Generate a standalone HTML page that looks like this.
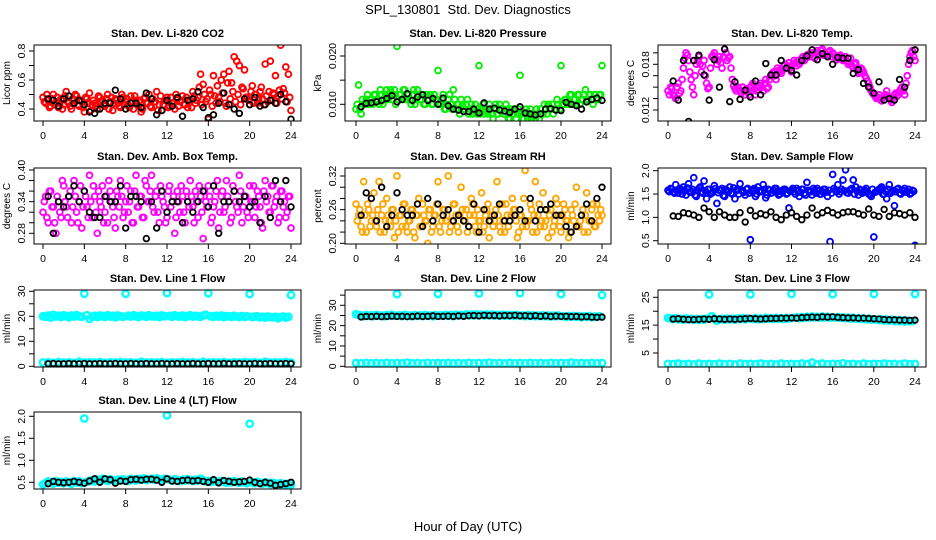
<!DOCTYPE html>
<html><head><meta charset="utf-8"><style>
html,body{margin:0;padding:0;background:#fff;}
svg{display:block;font-family:"Liberation Sans",Arial,sans-serif;}
</style></head><body>
<svg id="chart" width="936" height="540" viewBox="0 0 936 540" xmlns="http://www.w3.org/2000/svg">
<rect x="0" y="0" width="936" height="540" fill="#fff"/>
<text x="468" y="14" font-size="13" text-anchor="middle">SPL_130801&#160; Std. Dev. Diagnostics</text>
<text x="468" y="531" font-size="13" text-anchor="middle">Hour of Day (UTC)</text>
</svg>
<script>
// ---- data (hour of day on x) ----
const co2Color = [0.48,0.44,0.46,0.42,0.50,0.45,0.41,0.47,0.43,0.52,0.44,0.40,0.46,0.49,0.42,0.45,0.38,0.47,0.51,0.43,0.44,0.40,0.48,0.46,0.42,0.50,0.45,0.39,0.47,0.44,0.41,0.48,0.45,0.43,0.49,0.40,0.46,0.42,0.38,0.47,0.44,0.50,0.41,0.45,0.52,0.43,0.39,0.46,0.48,0.42,0.44,0.40,0.47,0.45,0.49,0.43,0.41,0.46,0.52,0.44,0.48,0.64,0.57,0.45,0.33,0.50,0.63,0.44,0.48,0.60,0.64,0.42,0.66,0.58,0.76,0.73,0.70,0.55,0.67,0.48,0.43,0.56,0.50,0.44,0.52,0.47,0.71,0.45,0.73,0.51,0.63,0.49,0.84,0.54,0.69,0.64,0.39];
const co2ColorB = [0.45,0.50,0.41,0.47,0.43,0.48,0.44,0.40,0.49,0.45,0.42,0.47,0.50,0.43,0.46,0.41,0.48,0.44,0.39,0.46,0.42,0.49,0.45,0.43,0.47,0.40,0.48,0.44,0.46,0.42,0.50,0.43,0.47,0.41,0.45,0.49,0.43,0.46,0.40,0.48,0.44,0.42,0.47,0.45,0.39,0.49,0.43,0.46,0.41,0.48,0.44,0.50,0.42,0.46,0.43,0.48,0.45,0.41,0.49,0.46,0.55,0.43,0.50,0.47,0.53,0.42,0.49,0.56,0.45,0.51,0.44,0.58,0.47,0.52,0.45,0.50,0.43,0.54,0.48,0.46,0.52,0.44,0.50,0.47,0.55,0.43,0.49,0.52,0.46,0.50,0.44,0.53,0.47,0.51,0.45,0.48];
const co2Black = [0.47,0.46,0.42,0.47,0.49,0.44,0.46,0.43,0.38,0.37,0.40,0.44,0.44,0.53,0.47,0.40,0.44,0.44,0.41,0.51,0.47,0.36,0.39,0.46,0.42,0.48,0.35,0.46,0.47,0.52,0.41,0.34,0.36,0.44,0.51,0.43,0.40,0.37,0.47,0.43,0.48,0.42,0.43,0.46,0.44,0.50,0.45,0.33];
const presColor = [0.009,0.014,0.008,0.010,0.011,0.010,0.011,0.012,0.011,0.010,0.012,0.011,0.013,0.012,0.011,0.013,0.022,0.012,0.011,0.013,0.012,0.011,0.012,0.010,0.013,0.011,0.012,0.010,0.011,0.012,0.010,0.011,0.017,0.010,0.012,0.009,0.011,0.010,0.013,0.009,0.010,0.011,0.009,0.010,0.008,0.010,0.009,0.008,0.018,0.009,0.008,0.009,0.010,0.008,0.009,0.008,0.010,0.009,0.008,0.009,0.007,0.008,0.009,0.008,0.016,0.007,0.008,0.007,0.009,0.008,0.007,0.008,0.009,0.008,0.009,0.010,0.009,0.008,0.009,0.010,0.018,0.010,0.011,0.010,0.012,0.011,0.010,0.012,0.011,0.012,0.011,0.012,0.011,0.012,0.011,0.012,0.018];
const presColorB = [0.010,0.009,0.011,0.010,0.012,0.011,0.010,0.012,0.011,0.013,0.010,0.012,0.011,0.013,0.012,0.010,0.011,0.012,0.013,0.011,0.012,0.010,0.013,0.011,0.012,0.011,0.010,0.012,0.011,0.010,0.012,0.011,0.010,0.011,0.009,0.010,0.012,0.009,0.011,0.010,0.008,0.010,0.009,0.011,0.009,0.008,0.010,0.009,0.008,0.010,0.009,0.008,0.009,0.007,0.010,0.008,0.009,0.008,0.010,0.007,0.009,0.008,0.007,0.009,0.008,0.007,0.009,0.008,0.007,0.008,0.009,0.007,0.008,0.010,0.008,0.009,0.010,0.009,0.011,0.009,0.010,0.011,0.010,0.012,0.010,0.011,0.012,0.010,0.011,0.013,0.011,0.012,0.010,0.012,0.011,0.012];
const presBlack = [0.0095,0.0102,0.0103,0.0105,0.0108,0.0112,0.0118,0.0105,0.0110,0.0122,0.0108,0.0115,0.0120,0.0108,0.0112,0.0100,0.0113,0.0097,0.0090,0.0088,0.0085,0.0085,0.0090,0.0082,0.0103,0.0090,0.0092,0.0088,0.0086,0.0083,0.0090,0.0095,0.0082,0.0080,0.0078,0.0080,0.0090,0.0091,0.0088,0.0087,0.0104,0.0100,0.0097,0.0090,0.0105,0.0110,0.0113,0.0108];
const tempColor = [0.0145,0.0150,0.0140,0.0135,0.0155,0.0145,0.0175,0.0195,0.0185,0.0160,0.0140,0.0180,0.0190,0.0170,0.0185,0.0155,0.0150,0.0190,0.0195,0.0180,0.0190,0.0175,0.0200,0.0185,0.0190,0.0160,0.0148,0.0150,0.0145,0.0150,0.0140,0.0145,0.0150,0.0155,0.0140,0.0150,0.0155,0.0145,0.0160,0.0150,0.0165,0.0170,0.0160,0.0172,0.0168,0.0178,0.0175,0.0182,0.0170,0.0185,0.0178,0.0180,0.0188,0.0185,0.0192,0.0190,0.0195,0.0188,0.0198,0.0192,0.0200,0.0195,0.0190,0.0198,0.0195,0.0190,0.0188,0.0192,0.0185,0.0190,0.0180,0.0188,0.0175,0.0182,0.0168,0.0175,0.0170,0.0162,0.0155,0.0145,0.0140,0.0135,0.0140,0.0132,0.0138,0.0145,0.0135,0.0130,0.0140,0.0138,0.0145,0.0150,0.0140,0.0165,0.0190,0.0198,0.0185];
const tempColorB = [0.0140,0.0148,0.0138,0.0150,0.0142,0.0160,0.0188,0.0192,0.0170,0.0150,0.0165,0.0185,0.0180,0.0178,0.0165,0.0148,0.0175,0.0192,0.0188,0.0185,0.0182,0.0190,0.0195,0.0188,0.0175,0.0152,0.0145,0.0148,0.0142,0.0145,0.0148,0.0140,0.0152,0.0148,0.0145,0.0152,0.0150,0.0155,0.0148,0.0160,0.0168,0.0165,0.0175,0.0170,0.0172,0.0180,0.0178,0.0175,0.0180,0.0182,0.0185,0.0183,0.0190,0.0188,0.0193,0.0192,0.0190,0.0195,0.0194,0.0198,0.0192,0.0193,0.0196,0.0190,0.0193,0.0186,0.0190,0.0188,0.0186,0.0184,0.0182,0.0178,0.0180,0.0172,0.0170,0.0173,0.0165,0.0158,0.0150,0.0142,0.0138,0.0137,0.0135,0.0136,0.0140,0.0138,0.0133,0.0136,0.0142,0.0140,0.0148,0.0145,0.0155,0.0180,0.0195,0.0190];
const tempBlack = [0.0158,0.0133,0.0185,0.0105,0.0185,0.0192,0.0166,0.0133,0.0186,0.0150,0.0200,0.0131,0.0157,0.0134,0.0146,0.0137,0.0158,0.0140,0.0181,0.0166,0.0166,0.0185,0.0175,0.0172,0.0166,0.0185,0.0191,0.0199,0.0186,0.0194,0.0190,0.0180,0.0189,0.0188,0.0188,0.0168,0.0173,0.0155,0.0150,0.0142,0.0157,0.0133,0.0135,0.0133,0.0160,0.0150,0.0185,0.0199];
const ambColor = [0.32,0.35,0.30,0.36,0.33,0.28,0.34,0.31,0.37,0.33,0.35,0.30,0.38,0.32,0.34,0.29,0.36,0.33,0.39,0.31,0.35,0.28,0.34,0.37,0.32,0.30,0.36,0.33,0.29,0.35,0.38,0.31,0.34,0.32,0.36,0.30,0.39,0.33,0.35,0.31,0.37,0.34,0.39,0.32,0.36,0.30,0.35,0.33,0.31,0.37,0.34,0.28,0.36,0.32,0.35,0.30,0.34,0.38,0.33,0.36,0.31,0.35,0.27,0.34,0.37,0.30,0.33,0.36,0.29,0.35,0.32,0.38,0.34,0.31,0.36,0.33,0.39,0.30,0.35,0.32,0.37,0.34,0.31,0.36,0.33,0.29,0.38,0.35,0.32,0.37,0.34,0.30,0.36,0.33,0.31,0.35,0.29];
const ambColorB = [0.34,0.31,0.36,0.33,0.30,0.35,0.32,0.38,0.34,0.31,0.36,0.33,0.35,0.30,0.37,0.33,0.35,0.31,0.34,0.37,0.32,0.36,0.33,0.30,0.35,0.38,0.34,0.31,0.36,0.33,0.35,0.32,0.37,0.34,0.30,0.36,0.33,0.35,0.31,0.38,0.34,0.36,0.33,0.35,0.32,0.37,0.34,0.30,0.36,0.33,0.35,0.31,0.34,0.37,0.32,0.36,0.33,0.35,0.30,0.34,0.37,0.32,0.36,0.33,0.35,0.31,0.34,0.38,0.32,0.36,0.33,0.35,0.30,0.37,0.34,0.32,0.36,0.33,0.35,0.31,0.34,0.37,0.33,0.35,0.30,0.36,0.34,0.32,0.37,0.33,0.35,0.31,0.36,0.34,0.32,0.35];
const ambBlack = [0.35,0.28,0.34,0.33,0.35,0.37,0.34,0.36,0.32,0.31,0.31,0.35,0.34,0.34,0.37,0.29,0.35,0.35,0.34,0.27,0.34,0.29,0.36,0.32,0.34,0.34,0.30,0.34,0.32,0.34,0.36,0.33,0.37,0.28,0.34,0.34,0.36,0.34,0.35,0.33,0.34,0.30,0.35,0.31,0.38,0.34,0.38,0.33];
const rhColor = [0.27,0.25,0.23,0.31,0.22,0.26,0.24,0.29,0.23,0.31,0.25,0.22,0.28,0.24,0.26,0.21,0.32,0.25,0.23,0.27,0.22,0.24,0.26,0.21,0.25,0.23,0.27,0.24,0.20,0.26,0.23,0.25,0.31,0.22,0.26,0.24,0.32,0.23,0.27,0.25,0.22,0.30,0.24,0.26,0.23,0.28,0.25,0.22,0.24,0.29,0.23,0.26,0.21,0.25,0.24,0.31,0.23,0.27,0.22,0.25,0.24,0.28,0.26,0.21,0.25,0.23,0.33,0.24,0.27,0.22,0.31,0.25,0.23,0.29,0.24,0.21,0.26,0.23,0.28,0.25,0.22,0.27,0.24,0.21,0.26,0.24,0.30,0.23,0.25,0.22,0.29,0.24,0.26,0.23,0.27,0.24,0.25];
const rhColorB = [0.24,0.26,0.22,0.25,0.27,0.23,0.25,0.24,0.26,0.22,0.27,0.24,0.25,0.23,0.26,0.24,0.22,0.25,0.27,0.23,0.24,0.26,0.22,0.25,0.28,0.23,0.25,0.24,0.26,0.22,0.25,0.27,0.23,0.24,0.26,0.25,0.22,0.24,0.27,0.23,0.25,0.26,0.24,0.22,0.25,0.27,0.23,0.26,0.24,0.22,0.25,0.27,0.24,0.23,0.26,0.25,0.22,0.24,0.27,0.23,0.25,0.26,0.24,0.22,0.25,0.28,0.23,0.24,0.26,0.25,0.22,0.27,0.24,0.23,0.26,0.25,0.22,0.24,0.27,0.23,0.25,0.26,0.24,0.22,0.25,0.27,0.23,0.24,0.26,0.25,0.22,0.24,0.27,0.23,0.25,0.26];
const rhBlack = [0.25,0.29,0.28,0.24,0.30,0.23,0.25,0.29,0.26,0.25,0.25,0.27,0.23,0.28,0.24,0.27,0.25,0.26,0.24,0.25,0.24,0.23,0.27,0.22,0.26,0.24,0.25,0.27,0.24,0.24,0.25,0.26,0.24,0.28,0.24,0.26,0.26,0.27,0.25,0.25,0.23,0.22,0.23,0.25,0.27,0.24,0.28,0.30];
const flowColor = [1.58,1.62,1.55,1.70,1.52,1.60,1.65,1.48,1.72,1.56,1.85,1.45,1.62,1.55,1.78,1.40,1.60,1.52,1.68,1.30,1.58,1.62,1.45,1.55,1.65,1.50,1.40,1.60,1.72,1.55,1.48,1.62,0.52,1.58,1.45,1.65,1.55,1.70,1.42,1.60,1.52,1.58,1.62,1.48,1.55,1.60,1.50,1.20,1.58,1.55,1.62,1.45,1.60,1.52,1.75,1.55,1.48,1.58,1.62,1.50,1.55,1.60,1.45,0.48,1.92,1.58,1.70,1.55,1.80,2.02,1.52,1.60,1.80,1.65,1.48,1.58,1.55,1.62,1.50,1.45,0.58,1.55,1.60,1.65,1.50,1.40,1.70,1.55,1.25,1.60,1.52,1.58,1.62,1.55,1.50,1.58,0.40];
const flowColorB = [1.55,1.60,1.52,1.58,1.62,1.50,1.57,1.63,1.54,1.60,1.48,1.58,1.65,1.52,1.57,1.60,1.50,1.55,1.62,1.53,1.58,1.47,1.60,1.55,1.52,1.63,1.57,1.50,1.58,1.54,1.60,1.52,1.56,1.62,1.50,1.57,1.55,1.60,1.48,1.58,1.53,1.62,1.55,1.50,1.58,1.60,1.52,1.56,1.62,1.50,1.57,1.54,1.60,1.48,1.58,1.55,1.62,1.52,1.57,1.50,1.60,1.54,1.58,1.52,1.62,1.55,1.50,1.60,1.57,1.53,1.58,1.62,1.50,1.56,1.60,1.52,1.58,1.55,1.48,1.60,1.54,1.57,1.62,1.50,1.56,1.60,1.52,1.58,1.55,1.62,1.50,1.57,1.54,1.60,1.52,1.56];
const flowBlack = [1.03,1.02,1.10,1.08,1.05,1.00,1.20,1.12,1.00,1.12,1.05,1.00,1.00,1.10,0.90,1.15,1.03,1.08,1.05,1.12,1.00,0.95,1.05,1.10,1.02,0.95,1.05,1.20,1.05,1.10,1.15,1.10,1.05,1.10,1.12,1.12,1.08,1.05,1.18,1.05,1.02,1.17,1.02,1.10,1.08,1.05,1.10,1.00];
const line1High = [20.0,19.8,20.3,19.5,20.6,19.9,20.2,19.7,20.4,20.1,19.6,20.3,19.9,20.5,20.0,19.8,29.0,20.4,19.0,19.9,20.2,19.7,20.3,20.0,19.8,20.4,19.9,20.2,19.6,20.3,20.0,19.8,29.0,20.2,19.9,20.4,20.0,19.7,20.3,20.1,19.8,20.4,20.0,19.9,20.2,19.7,20.3,20.0,29.3,20.2,19.8,20.4,20.0,19.9,20.3,19.7,20.1,20.4,19.9,20.2,20.0,19.8,20.3,20.6,29.2,20.0,19.8,20.2,19.9,20.3,19.7,20.1,20.0,19.8,20.2,19.9,19.7,20.1,19.8,20.0,28.9,19.7,19.9,20.0,19.6,19.8,19.5,19.9,19.7,19.6,19.8,19.2,19.7,19.9,19.5,19.8,28.5];
const line1Low = [1.5,1.6,1.4,1.7,1.5,1.6,1.4,1.8,1.5,1.6,1.5,1.7,1.4,1.6,1.5,1.7,1.5,1.6,1.4,1.8,1.5,1.6,1.5,1.7,1.4,1.6,1.5,1.7,1.5,1.6,1.4,1.8,1.5,1.6,1.5,1.7,1.4,1.6,1.5,1.7,1.5,1.6,1.4,1.8,1.5,1.6,1.5,1.7,1.5];
const line1Black = [1.0,1.1,1.0,1.0,1.1,1.0,1.0,1.1,1.0,1.0,1.1,1.0,1.0,1.1,1.0,1.0,1.1,1.0,1.0,1.1,1.0,1.0,1.1,1.0,1.0,1.1,1.0,1.0,1.1,1.0,1.0,1.1,1.0,1.0,1.1,1.0,1.0,1.1,1.0,1.0,1.1,1.0,1.0,1.1,1.0,1.0,1.1,1.0];
const line2High = [25.6,25.3,25.0,24.6,25.2,24.8,25.1,24.7,25.3,24.9,25.0,24.6,25.2,24.8,25.4,24.9,35.5,25.1,24.7,25.3,24.9,25.0,24.6,25.2,24.8,25.1,24.7,25.3,24.9,25.0,24.6,25.2,35.6,25.1,24.8,25.3,24.9,25.2,24.7,25.4,25.0,25.3,24.9,25.5,25.1,25.4,25.0,25.6,35.8,25.4,25.0,25.5,25.1,25.4,24.9,25.3,25.0,25.4,24.9,25.3,25.0,25.2,24.8,25.3,36.0,25.0,24.7,25.2,24.8,25.1,24.6,25.0,24.7,25.1,24.6,25.0,24.5,24.9,24.6,25.0,35.5,24.6,24.3,24.7,24.4,24.8,24.3,24.7,24.2,24.6,24.3,24.7,24.2,24.5,24.3,24.6,35.0];
const line2Low = [1.6,1.5,1.7,1.5,1.6,1.4,1.7,1.5,1.6,1.5,1.8,1.5,1.6,1.4,1.7,1.5,1.6,1.5,1.7,1.5,1.6,1.4,1.7,1.5,1.6,1.5,1.8,1.5,1.6,1.4,1.7,1.5,1.6,1.5,1.7,1.5,1.6,1.4,1.7,1.5,1.6,1.5,1.8,1.5,1.6,1.4,1.7,1.5,1.6];
const line2Black = [24.3,24.5,24.4,24.6,24.4,24.5,24.7,24.5,24.6,24.4,24.5,24.7,24.5,24.6,24.8,24.5,24.6,24.7,24.5,24.8,24.6,24.9,25.0,24.8,25.1,24.9,25.0,24.8,25.0,24.9,25.1,24.8,24.9,24.7,24.9,24.6,24.8,24.5,24.7,24.5,24.6,24.4,24.5,24.3,24.4,24.2,24.1,24.2];
const line3High = [17.6,17.4,17.2,17.5,17.1,17.3,17.0,17.4,17.1,17.3,17.0,17.2,16.9,17.2,17.0,17.3,26.0,18.2,17.4,16.6,17.1,17.3,17.0,17.4,17.1,17.3,17.0,17.4,17.2,17.5,17.1,17.4,26.0,17.2,17.5,17.1,17.4,17.2,17.6,17.3,17.5,17.2,17.6,17.3,17.5,17.2,17.6,17.4,26.2,17.6,17.8,17.5,17.9,17.6,18.0,17.7,18.1,17.8,18.0,17.7,18.1,17.8,18.0,17.7,26.1,17.7,17.9,17.6,17.8,17.5,17.7,17.4,17.6,17.3,17.5,17.2,17.4,17.1,17.3,17.0,26.2,17.0,16.8,17.1,16.7,17.0,16.6,16.9,16.5,16.8,16.4,16.7,16.3,16.6,16.4,16.5,26.2];
const line3Low = [1.1,1.0,1.2,1.0,1.1,0.9,1.2,1.0,1.1,1.0,1.2,1.0,1.1,0.9,1.2,1.0,1.1,1.0,1.2,1.0,1.1,0.9,1.2,1.0,1.1,1.0,1.2,1.0,1.6,0.9,1.2,1.0,1.1,1.0,1.3,1.0,1.1,0.9,1.2,1.0,1.1,1.0,1.2,1.0,1.1,0.9,1.2,1.0,1.1];
const line3Black = [17.2,17.3,17.1,17.0,17.0,17.1,17.2,17.1,17.3,17.2,17.1,17.2,17.1,17.2,17.3,17.4,17.3,17.2,17.3,17.4,17.4,17.5,17.5,17.6,17.5,17.7,17.8,17.9,17.8,18.0,17.9,18.0,17.8,17.7,17.6,17.6,17.5,17.5,17.4,17.3,17.2,17.0,16.9,16.9,16.8,16.8,16.7,16.8];
const line4Color = [0.45,0.48,0.52,0.50,0.47,0.53,0.49,0.51,0.48,0.52,0.50,0.47,0.53,0.50,0.52,0.48,1.95,0.51,0.53,0.55,0.52,0.56,0.54,0.58,0.55,0.53,0.57,0.55,0.52,0.56,0.54,0.57,0.55,0.53,0.58,0.56,0.54,0.58,0.56,0.59,0.55,0.57,0.58,0.56,0.59,0.57,0.55,0.58,2.02,0.56,0.54,0.57,0.55,0.53,0.56,0.54,0.57,0.55,0.53,0.56,0.54,0.58,0.55,0.52,0.53,0.51,0.54,0.52,0.50,0.53,0.51,0.49,0.52,0.50,0.53,0.51,0.49,0.52,0.50,0.48,1.83,0.50,0.48,0.51,0.49,0.47,0.50,0.48,0.46,0.49,0.47,0.45,0.48,0.46,0.44,0.47,0.45];
const line4Black = [0.47,0.52,0.50,0.49,0.50,0.52,0.50,0.48,0.53,0.58,0.50,0.58,0.56,0.48,0.53,0.52,0.56,0.57,0.55,0.57,0.57,0.55,0.50,0.58,0.53,0.52,0.54,0.55,0.53,0.54,0.52,0.50,0.56,0.49,0.54,0.52,0.50,0.51,0.52,0.55,0.50,0.47,0.50,0.48,0.43,0.45,0.47,0.50];
const xTickValues = [0,4,8,12,16,20,24];

// ---- layout ----
const NS = 'http://www.w3.org/2000/svg';
const svg = document.getElementById('chart');
const cols = [{l:34,r:301,x0:43,x24:291},{l:345,r:611,x0:356,x24:602},{l:658,r:926,x0:668,x24:915}];
const rows = [{t:45,b:121},{t:168,b:244},{t:290,b:367},{t:412,b:489}];

const panels = [
 {name:'co2',title:'Stan. Dev. Li-820 CO2',ylab:'Licor ppm',c:0,r:0,color:'#ff0000',series:[co2Color],seriesB:[co2ColorB],black:co2Black,
  ya:{v1:0.4,p1:109,v2:0.8,p2:51},ticks:[0.4,0.5,0.6,0.7,0.8],labels:['0.4','','0.6','','0.8']},
 {name:'pressure',title:'Stan. Dev. Li-820 Pressure',ylab:'kPa',c:1,r:0,color:'#00ee00',series:[presColor],seriesB:[presColorB],black:presBlack,
  ya:{v1:0.010,p1:104.3,v2:0.020,p2:56},ticks:[0.010,0.015,0.020],labels:['0.010','','0.020']},
 {name:'temp',title:'Stan. Dev. Li-820 Temp.',ylab:'degrees C',c:2,r:0,color:'#ff00ff',series:[tempColor],seriesB:[tempColorB],black:tempBlack,
  ya:{v1:0.012,p1:110,v2:0.018,p2:64.3},ticks:[0.012,0.0135,0.015,0.0165,0.018,0.0195],labels:['0.012','','','','0.018','']},
 {name:'amb-box-temp',title:'Stan. Dev. Amb. Box Temp.',ylab:'degrees C',c:0,r:1,color:'#ff00ff',series:[ambColor],seriesB:[ambColorB],black:ambBlack,
  ya:{v1:0.28,p1:233.3,v2:0.40,p2:170},ticks:[0.28,0.30,0.32,0.34,0.36,0.38,0.40],labels:['0.28','','','0.34','','','0.40']},
 {name:'gas-stream-rh',title:'Stan. Dev. Gas Stream RH',ylab:'percent',c:1,r:1,color:'#ffa500',series:[rhColor],seriesB:[rhColorB],black:rhBlack,
  ya:{v1:0.20,p1:243.3,v2:0.32,p2:176},ticks:[0.20,0.22,0.24,0.26,0.28,0.30,0.32],labels:['0.20','','','0.26','','','0.32']},
 {name:'sample-flow',title:'Stan. Dev. Sample Flow',ylab:'ml/min',c:2,r:1,color:'#0000ff',series:[flowColor],seriesB:[flowColorB],black:flowBlack,
  ya:{v1:0.5,p1:240.7,v2:2.0,p2:170.7},ticks:[0.5,1.0,1.5,2.0],labels:['0.5','1.0','1.5','2.0']},
 {name:'line1-flow',title:'Stan. Dev. Line 1 Flow',ylab:'ml/min',c:0,r:2,color:'#00ffff',series:[line1High,line1Low],seriesB:[],black:line1Black,thick:true,
  ya:{v1:0,p1:366.3,v2:30,p2:291.3},ticks:[0,5,10,15,20,25,30],labels:['0','','10','','20','','30']},
 {name:'line2-flow',title:'Stan. Dev. Line 2 Flow',ylab:'ml/min',c:1,r:2,color:'#00ffff',series:[line2High,line2Low],seriesB:[],black:line2Black,thick:true,
  ya:{v1:0,p1:366.3,v2:30,p2:305.3},ticks:[0,5,10,15,20,25,30,35],labels:['0','','10','','20','','30','']},
 {name:'line3-flow',title:'Stan. Dev. Line 3 Flow',ylab:'ml/min',c:2,r:2,color:'#00ffff',series:[line3High,line3Low],seriesB:[],black:line3Black,thick:true,
  ya:{v1:5,p1:353,v2:25,p2:297.3},ticks:[5,10,15,20,25],labels:['5','','15','','25']},
 {name:'line4-flow',title:'Stan. Dev. Line 4 (LT) Flow',ylab:'ml/min',c:0,r:3,color:'#00ffff',series:[line4Color],seriesB:[],black:line4Black,thick:true,
  ya:{v1:0.5,p1:482.3,v2:2.0,p2:416.3},ticks:[0.5,1.0,1.5,2.0],labels:['0.5','1.0','1.5','2.0']}
];

function mk(tag, attrs, parent){
  const e = document.createElementNS(NS, tag);
  for (const k in attrs) e.setAttribute(k, attrs[k]);
  (parent||svg).appendChild(e);
  return e;
}

panels.forEach(p => {
  const C = cols[p.c], R = rows[p.r];
  const xs = h => C.x0 + (C.x24 - C.x0) * h / 24;
  const ys = v => p.ya.p1 + (v - p.ya.v1) * (p.ya.p2 - p.ya.p1) / (p.ya.v2 - p.ya.v1);
  const g = mk('g', {});
  
  

  const t = mk('text', {x:(C.l+C.r)/2, y:R.t-8, 'font-size':11, 'font-weight':'bold', 'text-anchor':'middle'}, g);
  t.textContent = p.title;
  
  

  const clip = mk('clipPath', {id:'clip-'+p.name}, g);
  mk('rect', {x:C.l, y:R.t, width:C.r-C.l, height:R.b-R.t}, clip);
  const pts = mk('g', {'clip-path':'url(#clip-'+p.name+')'}, g);
  
  

  const rad = p.thick ? 3.2 : 2.9;
  const sw = p.thick ? 2.4 : 1.9;
  p.series.forEach(arr => {
    arr.forEach((v, i) => {
      const h = 24 * i / (arr.length - 1);
      const c = mk('circle', {cx:xs(h), cy:ys(v), r:rad, fill:'none', stroke:p.color, 'stroke-width':sw}, pts);
      
      
    });
  });
  p.seriesB.forEach(arr => {
    arr.forEach((v, i) => {
      const h = 24 * (i + 0.5) / arr.length;
      const c = mk('circle', {cx:xs(h), cy:ys(v), r:rad, fill:'none', stroke:p.color, 'stroke-width':sw}, pts);
      
      
    });
  });
  p.black.forEach((v, i) => {
    const h = 24 * (i + 1) / p.black.length;
    const c = mk('circle', {cx:xs(h), cy:ys(v), r:2.8, fill:'none', stroke:'#000', 'stroke-width':1.8}, pts);
    
    
  });

  const box = mk('rect', {x:C.l, y:R.t, width:C.r-C.l, height:R.b-R.t, fill:'none', stroke:'#000', 'stroke-width':1}, g);
  
  

  const xa = mk('g', {}, g);
  
  
  mk('line', {x1:xs(0), x2:xs(24), y1:R.b, y2:R.b, stroke:'#000'}, xa);
  xTickValues.forEach(h => {
    mk('line', {x1:xs(h), x2:xs(h), y1:R.b, y2:R.b+5, stroke:'#000'}, xa);
    const tl = mk('text', {x:xs(h), y:R.b+18, 'font-size':10.5, 'text-anchor':'middle'}, xa);
    tl.textContent = String(h);
  });

  const ya = mk('g', {}, g);
  
  
  mk('line', {x1:C.l, x2:C.l, y1:ys(p.ticks[0]), y2:ys(p.ticks[p.ticks.length-1]), stroke:'#000'}, ya);
  p.ticks.forEach((v, i) => {
    const y = ys(v);
    mk('line', {x1:C.l-5, x2:C.l, y1:y, y2:y, stroke:'#000'}, ya);
    if (p.labels[i]) {
      const tl = mk('text', {x:C.l-9, y:y, 'font-size':10.5, 'text-anchor':'middle', transform:'rotate(-90 '+(C.l-9)+' '+y+')'}, ya);
      tl.textContent = p.labels[i];
    }
  });
  const yl = mk('text', {x:C.l-24, y:(R.t+R.b)/2, 'font-size':10, 'text-anchor':'middle', transform:'rotate(-90 '+(C.l-24)+' '+((R.t+R.b)/2)+')'}, g);
  yl.textContent = p.ylab;
  
  
});
</script>
</body></html>
